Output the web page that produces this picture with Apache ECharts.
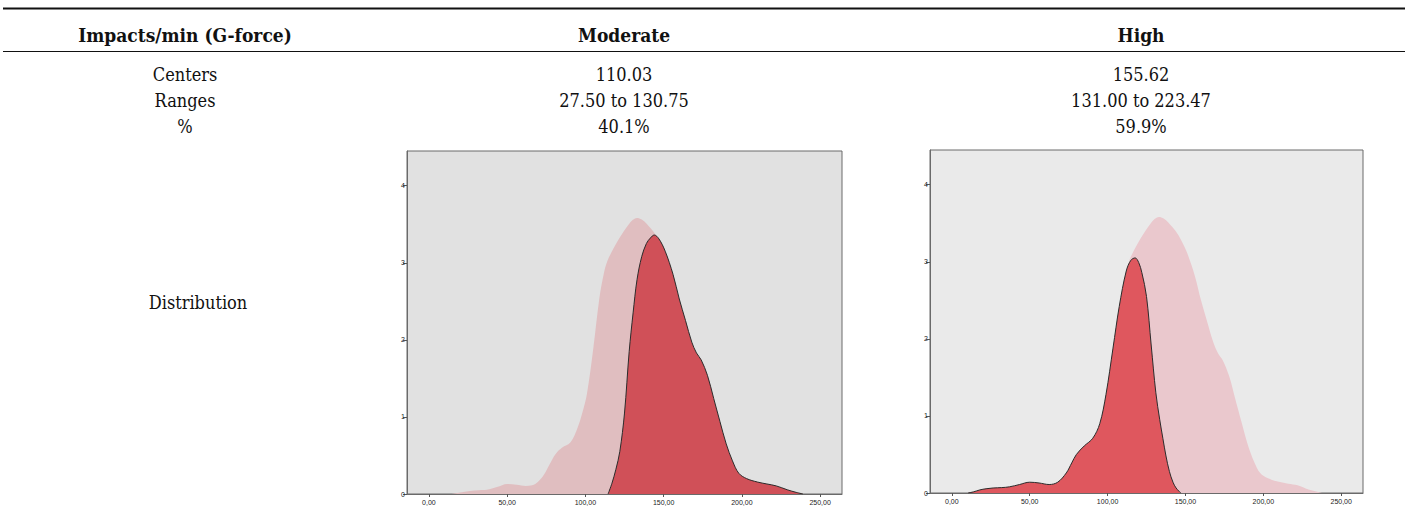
<!DOCTYPE html>
<html>
<head>
<meta charset="utf-8">
<script src="https://cdn.jsdelivr.net/npm/echarts@6.0.0/dist/echarts.min.js"></script>
<style>
  html, body { margin: 0; padding: 0; background: #ffffff; }
  #chart { width: 1407px; height: 520px; }
</style>
</head>
<body>
<div id="chart"></div>
<script>
// ---- table text ----
const headers = ['Impacts/min (G-force)', 'Moderate', 'High'];
const rowLabels = ['Centers', 'Ranges', '%'];
const moderateValues = ['110.03', '27.50 to 130.75', '40.1%'];
const highValues = ['155.62', '131.00 to 223.47', '59.9%'];
const distributionLabel = 'Distribution';

// ---- axis ticks ----
const xTickValues = [0, 50, 100, 150, 200, 250];
const xTickLabels = ['0,00', '50,00', '100,00', '150,00', '200,00', '250,00'];
const yTickValues = [0, 1, 2, 3, 4];
const yTickLabels = ['0', '1', '2', '3', '4'];

// ---- density curves [x, density] ----
const overallDensity = [
  [14,0],[20,0.02],[26,0.04],[32,0.05],[37,0.055],[43.5,0.09],[50,0.13],[56,0.12],[62,0.105],
  [68,0.13],[73.5,0.25],[77,0.38],[81,0.52],[85,0.6],[90.5,0.67],[95,0.86],[98,1.05],[101,1.3],
  [105,1.88],[109,2.55],[112,2.88],[114,3.02],[117,3.15],[120,3.26],[123,3.36],[126,3.45],
  [130,3.55],[133,3.58],[136,3.56],[139,3.51],[142,3.44],[145,3.36],[148,3.25],[151,3.12],
  [156,2.82],[160,2.5],[164,2.22],[168,1.95],[171,1.81],[174,1.72],[178,1.52],[182,1.22],
  [186,0.92],[190,0.63],[194,0.41],[198,0.26],[203,0.19],[210,0.145],[216,0.12],[222,0.1],
  [229,0.045],[234,0.02],[238,0]
];
const moderateColumnDensity = [
  [114.5,0],[117,0.14],[119.5,0.32],[122,0.55],[125,1.05],[128,1.85],[130.5,2.35],[133,2.78],
  [136,3.08],[139,3.25],[141.5,3.32],[144,3.36],[147,3.31],[151,3.15],[156,2.85],[160,2.53],
  [164,2.25],[168,1.97],[171,1.83],[174,1.74],[178,1.54],[182,1.24],[186,0.94],[190,0.65],
  [194,0.43],[198,0.27],[203,0.2],[210,0.155],[216,0.13],[222,0.105],[229,0.055],[234,0.025],[239,0]
];
const highColumnDensity = [
  [10.5,0],[14,0.015],[18,0.04],[22,0.055],[26.5,0.065],[32,0.07],[37,0.08],[43.5,0.11],[50,0.14],
  [56,0.13],[62.5,0.11],[68,0.14],[73.5,0.26],[77,0.39],[80,0.5],[85,0.61],[90.5,0.71],[95,0.9],
  [99,1.28],[103.5,1.88],[107.5,2.42],[112,2.88],[115,3.02],[117.7,3.05],[120,2.99],[122,2.86],
  [125,2.55],[128,1.92],[131,1.3],[133.5,0.95],[135.5,0.71],[137.5,0.48],[139.7,0.28],[142,0.14],
  [144,0.065],[147,0]
];

const FONT = '"DejaVu Serif Condensed", "DejaVu Serif", "Liberation Serif", serif';
const colX = [185, 624, 1141];
const rowY = [74, 100, 126];

const chart = echarts.init(document.getElementById('chart'), null, { renderer: 'svg' });

function txt(text, x, y, bold) {
  return {
    type: 'text', x: x, y: y, silent: true,
    style: {
      text: text, fill: '#111', fontFamily: FONT, fontSize: bold ? 19 : 18,
      fontWeight: bold ? 'bold' : 'normal', align: 'center', verticalAlign: 'middle'
    }
  };
}

const graphics = [
  { type: 'line', shape: { x1: 3, y1: 8.5, x2: 1405, y2: 8.5 }, style: { stroke: '#111', lineWidth: 2 }, silent: true },
  { type: 'line', shape: { x1: 3, y1: 51.5, x2: 1405, y2: 51.5 }, style: { stroke: '#111', lineWidth: 1 }, silent: true }
];
headers.forEach((h, i) => graphics.push(txt(h, colX[i], 35, true)));
rowLabels.forEach((t, i) => graphics.push(txt(t, colX[0], rowY[i], false)));
moderateValues.forEach((t, i) => graphics.push(txt(t, colX[1], rowY[i], false)));
highValues.forEach((t, i) => graphics.push(txt(t, colX[2], rowY[i], false)));
graphics.push(txt(distributionLabel, 198, 302, false));

function xAxisCfg(gi) {
  return {
    type: 'value', gridIndex: gi, min: -14, max: 264,
    axisLine: { show: true, onZero: false, lineStyle: { color: '#6a6a6a', width: 1 } },
    axisTick: { show: true, length: 3, customValues: xTickValues, lineStyle: { color: '#555' } },
    axisLabel: {
      customValues: xTickValues, fontSize: 7, color: '#222', margin: 5, fontFamily: 'Liberation Sans, Arial',
      formatter: v => xTickLabels[xTickValues.indexOf(v)]
    },
    splitLine: { show: false }
  };
}
function yAxisCfg(gi) {
  return {
    type: 'value', gridIndex: gi, min: 0, max: 4.45,
    axisLine: { show: true, onZero: false, lineStyle: { color: '#6a6a6a', width: 1 } },
    axisTick: { show: true, length: 4, customValues: yTickValues, lineStyle: { color: '#555' } },
    axisLabel: {
      customValues: yTickValues, fontSize: 7, color: '#222', margin: 2, fontFamily: 'Liberation Sans, Arial',
      formatter: v => yTickLabels[yTickValues.indexOf(v)]
    },
    splitLine: { show: false }
  };
}

function areaSeries(gi, data, fill, outline) {
  return {
    type: 'line', xAxisIndex: gi, yAxisIndex: gi, data: data,
    smooth: 0.35, symbol: 'none', silent: true,
    lineStyle: outline ? { color: '#2b2b2b', width: 1 } : { width: 0, color: fill },
    areaStyle: { color: fill, opacity: 1 }
  };
}

chart.setOption({
  animation: false,
  graphic: graphics,
  grid: [
    { left: 407, top: 151, width: 435, height: 343, show: true, backgroundColor: '#e1e1e1', borderColor: '#6a6a6a', borderWidth: 1 },
    { left: 930, top: 150, width: 433, height: 343, show: true, backgroundColor: '#eaeaea', borderColor: '#6a6a6a', borderWidth: 1 }
  ],
  xAxis: [xAxisCfg(0), xAxisCfg(1)],
  yAxis: [yAxisCfg(0), yAxisCfg(1)],
  series: [
    areaSeries(0, overallDensity, '#e0bec0', false),
    areaSeries(0, moderateColumnDensity, '#d05058', true),
    areaSeries(1, overallDensity, '#eac8cd', false),
    areaSeries(1, highColumnDensity, '#df575e', true)
  ]
});
</script>
</body>
</html>
